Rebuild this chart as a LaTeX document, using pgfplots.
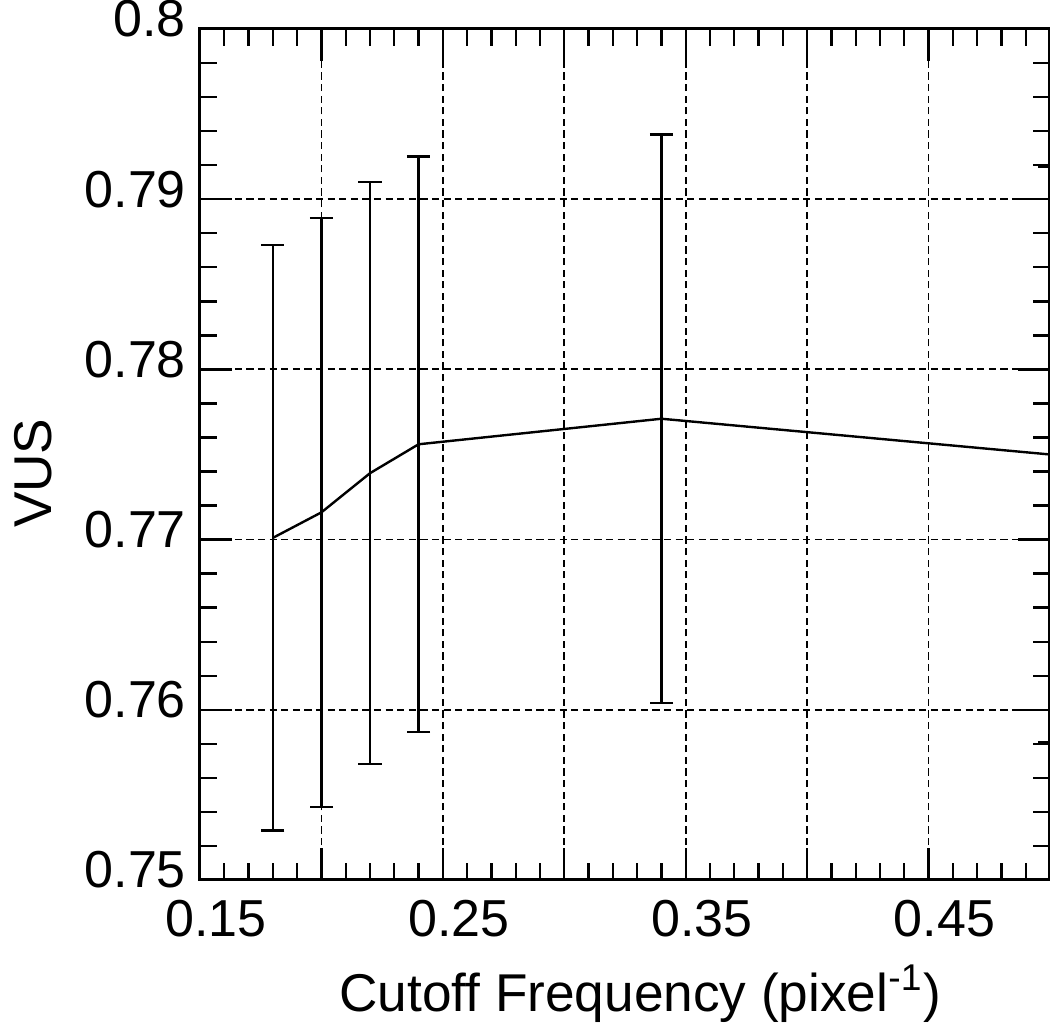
\documentclass[border=0pt]{standalone}
\usepackage{fontspec}
\setmainfont{Liberation Sans}
\usepackage{pgfplots}
\pgfplotsset{compat=1.18}
\begin{document}
\begin{tikzpicture}
\begin{axis}[
  name=ax, scale only axis,
  width=212.5pt, height=212.75pt,
  xmin=0.15, xmax=0.5, ymin=0.75, ymax=0.8,
  xtick={0.15,0.2,0.25,0.3,0.35,0.4,0.45,0.5},
  xticklabels={0.15,,0.25,,0.35,,0.45,},
  ytick={0.75,0.76,0.77,0.78,0.79,0.8},
  minor x tick num=4, minor y tick num=4,
  major tick length=8pt, minor tick length=4.25pt,
  every tick/.style={black, line width=0.6pt},
  axis line style={line width=0.75pt},
  grid=major,
  major grid style={black, line width=0.45pt, dash pattern=on 1.8pt off 1.1pt},
  /pgf/number format/assume math mode=true,
  tick label style={font=\fontsize{13}{15}\selectfont},
  xticklabel style={xshift=4pt, yshift=-1.5pt},
  yticklabel style={yshift=2.5pt},
  xlabel={Cutoff Frequency (pixel\textsuperscript{-1})},
  ylabel={VUS},
  every axis x label/.style={at={(axis description cs:0.518,-0.155)}, anchor=base,
    font=\fontsize{13.3}{15}\selectfont},
  every axis y label/.style={at={(axis description cs:-0.235,0.478)}, anchor=north, rotate=90,
    font=\fontsize{13.3}{15}\selectfont},
]
\addplot[black, line width=0.6pt, mark=none,
  error bars/.cd, y dir=both, y explicit,
  error bar style={black, line width=0.6pt},
  error mark options={black, rotate=90, line width=0.6pt, mark size=2.9pt}]
coordinates {
  (0.18,0.7701) +- (0,0.0172)
  (0.20,0.7716) +- (0,0.0173)
  (0.22,0.7739) +- (0,0.0171)
  (0.24,0.7756) +- (0,0.0169)
  (0.34,0.7771) +- (0,0.0167)
  (0.50,0.7750) +- (0,0.0169)
};
\end{axis}
\pgfresetboundingbox
\path[use as bounding box] ([shift={(-50pt,-35.75pt)}]ax.south west) rectangle ([shift={(0pt,7.25pt)}]ax.north east);
\end{tikzpicture}
\end{document}
